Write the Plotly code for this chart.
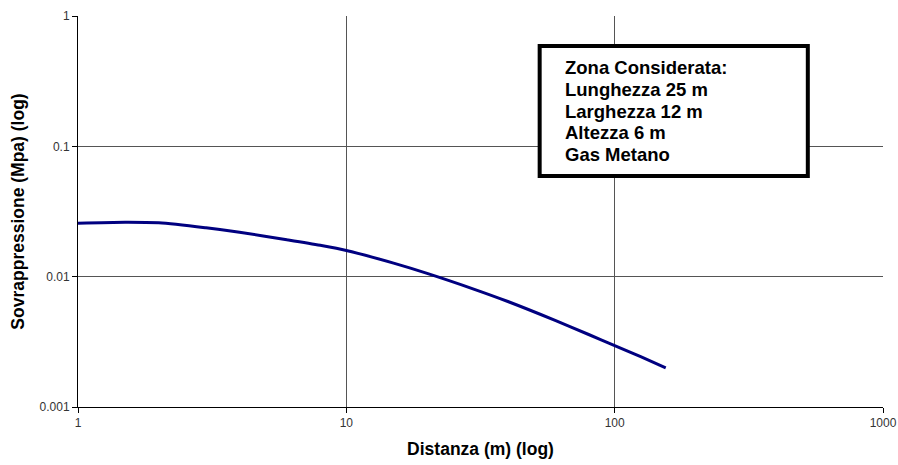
import plotly.graph_objects as go

# Overpressure vs distance (log-log)
distanza = [1, 1.5, 2, 3, 4, 6, 8, 10, 15, 20, 30, 40, 60, 80, 100, 125, 155]
sovrappressione = [0.0257, 0.0262, 0.0259, 0.0237, 0.0219, 0.0192, 0.0174, 0.0159,
                   0.0127, 0.0106, 0.00800, 0.00645, 0.00462, 0.00360, 0.00296,
                   0.00243, 0.00200]

x_ticks = [1, 10, 100, 1000]
x_tick_labels = ["1", "10", "100", "1000"]
y_ticks = [0.001, 0.01, 0.1, 1]
y_tick_labels = ["0.001", "0.01", "0.1", "1"]

info_lines = ["Zona Considerata:", "Lunghezza 25 m", "Larghezza 12 m",
              "Altezza 6 m", "Gas Metano"]

FONT = "Liberation Sans, Arial, sans-serif"

fig = go.Figure()
fig.add_trace(go.Scatter(
    x=distanza, y=sovrappressione, mode="lines",
    line=dict(color="#000080", width=3, shape="spline", smoothing=0.8),
    showlegend=False, hoverinfo="x+y",
))

axis_common = dict(
    type="log", showgrid=True, gridcolor="#555555", gridwidth=1,
    showline=True, linecolor="#000000", linewidth=1,
    ticks="outside", ticklen=5, tickcolor="#000000", tickwidth=1,
    tickfont=dict(family=FONT, size=12, color="#333333"),
    zeroline=False, mirror=False, automargin=False,
)

fig.update_xaxes(
    **axis_common, range=[0, 3],
    tickvals=x_ticks, ticktext=x_tick_labels,
    title=dict(text="<b>Distanza (m) (log)</b>",
               font=dict(family=FONT, size=17.5, color="#000000"), standoff=13),
)
fig.update_yaxes(
    **axis_common, range=[-3, 0],
    tickvals=y_ticks, ticktext=y_tick_labels,
    title=dict(text="<b>Sovrappressione (Mpa) (log)</b>",
               font=dict(family=FONT, size=17.5, color="#000000"), standoff=10),
)

# Boxed note with the zone description
fig.add_shape(type="rect", xref="paper", yref="paper",
              x0=0.5735, x1=0.9066, y0=0.5908, y1=0.9233,
              line=dict(color="#000000", width=4), fillcolor="#ffffff",
              layer="above")
line_step = 0.0555
for i, txt in enumerate(info_lines):
    fig.add_annotation(
        xref="paper", yref="paper", x=0.603, y=0.868 - i * line_step,
        xanchor="left", yanchor="middle", align="left", showarrow=False,
        text=f"<b>{txt}</b>",
        font=dict(family=FONT, size=18.5, color="#000000"),
    )

fig.update_layout(
    width=898, height=465,
    margin=dict(l=78, r=15, t=16, b=58),
    paper_bgcolor="#ffffff", plot_bgcolor="#ffffff",
    font=dict(family=FONT),
)

fig.write_html("out.html")
